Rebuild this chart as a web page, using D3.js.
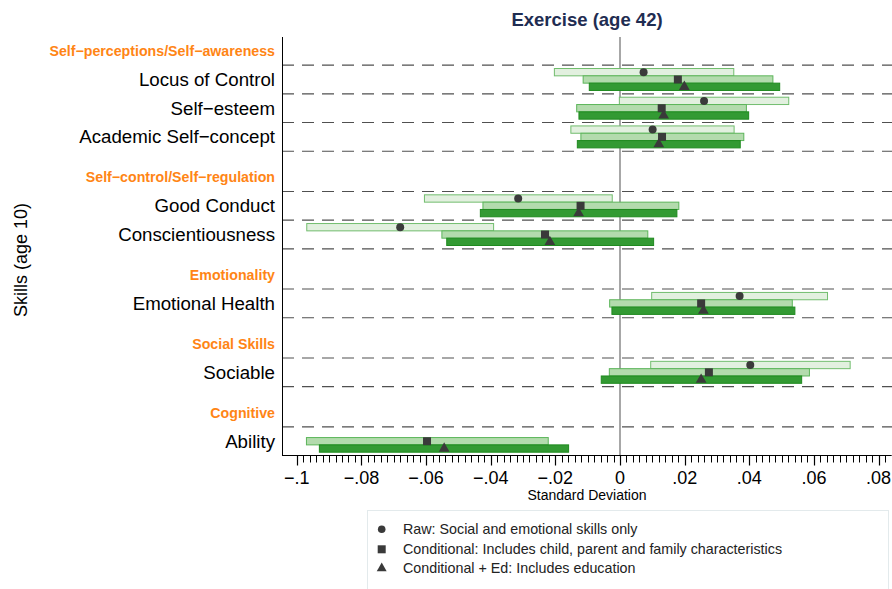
<!DOCTYPE html>
<html>
<head>
<meta charset="utf-8">
<script src="https://cdn.jsdelivr.net/npm/d3@7"></script>
<style>
html,body{margin:0;padding:0;background:#fff;}
svg{display:block;font-family:"Liberation Sans",Arial,Helvetica,sans-serif;}
</style>
</head>
<body>
<svg id="chart" width="892" height="589"></svg>
<script>
// ---- data ----
const title = "Exercise (age 42)";
const groups = ["Self−perceptions/Self−awareness", "Self−control/Self−regulation", "Emotionality", "Social Skills", "Cognitive"];
const skills = ["Locus of Control", "Self−esteem", "Academic Self−concept", "Good Conduct", "Conscientiousness", "Emotional Health", "Sociable", "Ability"];
const skillGroup = [0, 0, 0, 1, 1, 2, 3, 4];

const rawEst  = [0.0073, 0.0260, 0.0101, -0.0315, -0.0680, 0.0370, 0.0403, null];
const rawLo   = [-0.0203, -0.0002, -0.0152, -0.0605, -0.0969, 0.0098, 0.0095, null];
const rawHi   = [0.0352, 0.0522, 0.0353, -0.0024, -0.0391, 0.0642, 0.0712, null];

const condEst = [0.0179, 0.0129, 0.0130, -0.0122, -0.0232, 0.0251, 0.0275, -0.0597];
const condLo  = [-0.0114, -0.0134, -0.0121, -0.0424, -0.0551, -0.0032, -0.0033, -0.0970];
const condHi  = [0.0473, 0.0391, 0.0383, 0.0182, 0.0086, 0.0533, 0.0586, -0.0222];

const edEst   = [0.0199, 0.0135, 0.0120, -0.0128, -0.0217, 0.0258, 0.0251, -0.0544];
const edLo    = [-0.0095, -0.0127, -0.0132, -0.0432, -0.0536, -0.0025, -0.0058, -0.0930];
const edHi    = [0.0494, 0.0398, 0.0372, 0.0176, 0.0104, 0.0541, 0.0562, -0.0159];

const xTicks = [-0.1, -0.08, -0.06, -0.04, -0.02, 0, 0.02, 0.04, 0.06, 0.08];
const xTickLabels = ["−.1", "−.08", "−.06", "−.04", "−.02", "0", ".02", ".04", ".06", ".08"];
const xTitle = "Standard Deviation";
const yTitle = "Skills (age 10)";
const legendLabels = ["Raw: Social and emotional skills only", "Conditional: Includes child, parent and family characteristics", "Conditional + Ed: Includes education"];

// ---- layout ----
const svg = d3.select("#chart");
const pL = 282, pR = 892, pT = 37, pB = 455;
const x = d3.scaleLinear().domain([0, 0.08]).range([620, 878.6]);

// row positions: header, then items; gap between groups
const headerPos = [], itemPos = [];
let p = 0;
groups.forEach((g, gi) => {
  headerPos.push(p);
  skills.forEach((s, i) => { if (skillGroup[i] === gi) { p += 1; itemPos[i] = p; } });
  p += 1.4;
});
const y = d3.scaleLinear().domain([-0.48, 14.08]).range([pT, pB]);
const unit = y(1) - y(0);
const barH = unit * 0.255;

// dashed grid lines (item boundaries)
const gridYs = [];
itemPos.forEach(ps => { gridYs.push(ps - 0.5); gridYs.push(ps + 0.5); });
const uniqueGrid = Array.from(new Set(gridYs.map(v => +v.toFixed(3))));
svg.append("g").selectAll("line").data(uniqueGrid).join("line")
  .attr("x1", pL).attr("x2", pR)
  .attr("y1", d => y(d)).attr("y2", d => y(d))
  .attr("stroke", "#505050").attr("stroke-width", 1.1)
  .attr("stroke-dasharray", "12,8");

// zero line
svg.append("line").attr("x1", x(0)).attr("x2", x(0)).attr("y1", pT).attr("y2", pB)
  .attr("stroke", "#8a8a8a").attr("stroke-width", 1.5);

// bars
const series = [
  {est: rawEst, lo: rawLo, hi: rawHi, off: -1.5, fill: "#e2f0df", stroke: "#72bd6e"},
  {est: condEst, lo: condLo, hi: condHi, off: -0.5, fill: "#b3dbad", stroke: "#5cb55a"},
  {est: edEst, lo: edLo, hi: edHi, off: 0.5, fill: "#339a33", stroke: "#1f8a1f"}
];
const barsG = svg.append("g");
series.forEach(s => {
  skills.forEach((sk, i) => {
    if (s.lo[i] == null) return;
    barsG.append("rect")
      .attr("x", x(s.lo[i])).attr("width", x(s.hi[i]) - x(s.lo[i]))
      .attr("y", y(itemPos[i]) + s.off * barH).attr("height", barH)
      .attr("fill", s.fill).attr("stroke", s.stroke).attr("stroke-width", 1);
  });
});
// markers
const mk = "#3a3a3a";
const mG = svg.append("g");
skills.forEach((sk, i) => {
  const yc = y(itemPos[i]);
  if (rawEst[i] != null) mG.append("circle").attr("cx", x(rawEst[i])).attr("cy", yc - barH).attr("r", 4).attr("fill", mk);
  mG.append("rect").attr("x", x(condEst[i]) - 4).attr("y", yc - 4).attr("width", 8).attr("height", 8).attr("fill", mk);
  mG.append("path").attr("d", d3.symbol(d3.symbolTriangle, 50)())
    .attr("transform", `translate(${x(edEst[i])},${yc + barH})`).attr("fill", mk);
});

// y axis line
svg.append("line").attr("x1", pL + 0.5).attr("x2", pL + 0.5).attr("y1", pT).attr("y2", pB + 0.5)
  .attr("stroke", "#000").attr("stroke-width", 1);
// x axis line
svg.append("line").attr("x1", pL).attr("x2", 891).attr("y1", pB + 0.5).attr("y2", pB + 0.5)
  .attr("stroke", "#000").attr("stroke-width", 1);

// x axis ticks
const minorTicks = d3.range(-50, 43).map(k => k * 0.002);
const axG = svg.append("g").attr("transform", `translate(0,${pB + 0.5})`);
axG.selectAll("line.minor").data(minorTicks).join("line")
  .attr("class", "minor")
  .attr("x1", d => Math.round(x(d)) + 0.5).attr("x2", d => Math.round(x(d)) + 0.5)
  .attr("y1", 0).attr("y2", 7).attr("stroke", "#000").attr("stroke-width", 1);
axG.selectAll("line.major").data(xTicks).join("line")
  .attr("class", "major")
  .attr("x1", d => Math.round(x(d)) + 0.5).attr("x2", d => Math.round(x(d)) + 0.5)
  .attr("y1", 0).attr("y2", 10).attr("stroke", "#000").attr("stroke-width", 1.2);
axG.selectAll("text").data(xTicks).join("text")
  .attr("x", d => x(d)).attr("y", 28)
  .attr("text-anchor", "middle").attr("font-size", 18).attr("fill", "#000")
  .text((d, i) => xTickLabels[i]);

// x title
svg.append("text").attr("x", 587).attr("y", 500).attr("text-anchor", "middle")
  .attr("font-size", 14).attr("fill", "#000").text(xTitle);

// y labels
const labG = svg.append("g");
groups.forEach((g, gi) => {
  labG.append("text").attr("x", 275).attr("y", y(headerPos[gi]) + 5)
    .attr("text-anchor", "end").attr("font-size", 14.2).attr("font-weight", "bold")
    .attr("fill", "#ff8515").text(g);
});
skills.forEach((s, i) => {
  labG.append("text").attr("x", 275).attr("y", y(itemPos[i]) + 6.5)
    .attr("text-anchor", "end").attr("font-size", 18.7).attr("fill", "#000").text(s);
});

// y title
svg.append("text").attr("transform", "translate(27,260) rotate(-90)")
  .attr("text-anchor", "middle").attr("font-size", 18).attr("fill", "#000").text(yTitle);

// title
svg.append("text").attr("x", 587).attr("y", 26).attr("text-anchor", "middle")
  .attr("font-size", 18.5).attr("font-weight", "bold").attr("fill", "#1f2d52").text(title);

// legend
const lg = svg.append("g");
lg.append("rect").attr("x", 367.5).attr("y", 510.5).attr("width", 521).attr("height", 90)
  .attr("fill", "#fff").attr("stroke", "#e3eaec").attr("stroke-width", 1);
const legY = [529.3, 549.3, 568.3];
lg.append("circle").attr("cx", 381.7).attr("cy", legY[0]).attr("r", 3.8).attr("fill", mk);
lg.append("rect").attr("x", 377.7).attr("y", legY[1] - 4).attr("width", 8).attr("height", 8).attr("fill", mk);
lg.append("path").attr("d", d3.symbol(d3.symbolTriangle, 42)()).attr("transform", `translate(381.7,${legY[2]})`).attr("fill", mk);
legendLabels.forEach((t, i) => {
  lg.append("text").attr("x", 403).attr("y", legY[i] + 5).attr("font-size", 14.3).attr("fill", "#222").text(t);
});
</script>
</body>
</html>
